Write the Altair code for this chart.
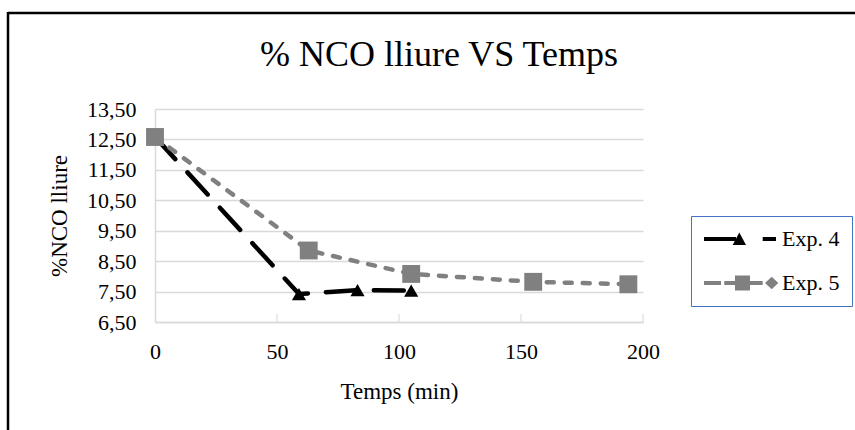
import altair as alt
import pandas as pd

# ---- data ----
exp4_t = [0, 59, 83, 105]
exp4_v = [12.58, 7.42, 7.55, 7.53]
exp5_t = [0, 63, 105, 155, 194]
exp5_v = [12.58, 8.85, 8.08, 7.82, 7.74]
series_names = ["Exp. 4", "Exp. 5"]
y_ticks = [6.5, 7.5, 8.5, 9.5, 10.5, 11.5, 12.5, 13.5]
x_ticks = [0, 50, 100, 150, 200]

df4 = pd.DataFrame({"t": exp4_t, "v": exp4_v, "s": series_names[0]})
df5 = pd.DataFrame({"t": exp5_t, "v": exp5_v, "s": series_names[1]})
df = pd.concat([df4, df5], ignore_index=True)
df_ticks = pd.DataFrame({"t": x_ticks[1:]})

FONT = "Liberation Serif"
BLACK = "#000000"
GRAY = "#808080"
AXIS_GRAY = "#d9d9d9"

x_enc = alt.X("t:Q", scale=alt.Scale(domain=[0, 200], nice=False),
              axis=alt.Axis(values=x_ticks, tickCount=12, title="Temps (min)", grid=False,
                            tickSize=0, labelPadding=19, titlePadding=18, labelFlush=False,
                            domainColor=AXIS_GRAY, domainWidth=1.5))
y_enc = alt.Y("v:Q", scale=alt.Scale(domain=[6.5, 13.5], nice=False, zero=False),
              axis=alt.Axis(values=y_ticks, tickCount=12, title="%NCO lliure", grid=True,
                            gridColor=AXIS_GRAY, gridWidth=1.5, tickSize=0,
                            labelPadding=19, titlePadding=15, labelOverlap=False,
                            labelFlush=False,
                            labelExpr="replace(format(datum.value, '.2f'), '.', ',')",
                            domainColor=AXIS_GRAY, domainWidth=1.5))

base4 = alt.Chart(df4)
base5 = alt.Chart(df5)

inner_ticks = alt.Chart(df_ticks).mark_tick(color=AXIS_GRAY, thickness=1.5, size=8).encode(
    x=alt.X("t:Q"), y=alt.value(209))

line4 = base4.mark_line(color=BLACK, strokeWidth=4.5, strokeDash=[30, 18],
                        strokeCap="round").encode(x=x_enc, y=y_enc)
pts4 = base4.mark_point(shape="triangle-up", filled=True, color=BLACK, size=200,
                        opacity=1).encode(x="t:Q", y="v:Q")
line5 = base5.mark_line(color=GRAY, strokeWidth=4.5, strokeDash=[7, 11],
                        strokeCap="round").encode(x="t:Q", y="v:Q")
pts5 = base5.mark_point(shape="square", filled=True, color=GRAY, size=320,
                        opacity=1).encode(x="t:Q", y="v:Q")

path4 = ("M-1,-0.2 L2.2,-0.2 L2.2,0.2 L-1,0.2 Z "
         "M1.87,0.6 L2.53,-0.65 L3.2,0.6 Z "
         "M4.87,-0.2 L6.2,-0.2 L6.2,0.2 L4.87,0.2 Z")
path5 = ("M-1,-0.2 L0.7,-0.2 L0.7,0.2 L-1,0.2 Z "
         "M1.03,-0.2 L4.87,-0.2 L4.87,0.2 L1.03,0.2 Z "
         "M2.1,-0.75 L3.6,-0.75 L3.6,0.75 L2.1,0.75 Z "
         "M5.77,-0.63 L6.43,0 L5.77,0.63 L5.1,0 Z")

leg = dict(title=None, orient="none", legendX=536, legendY=107,
           symbolSize=400, symbolOpacity=1, symbolStrokeWidth=0,
           labelOffset=57, rowPadding=22, padding=12,
           labelFont=FONT, labelFontSize=22, labelColor=BLACK,
           strokeColor="#4472c4", fillColor="white")

legend_layer = alt.Chart(df).mark_point(filled=True, opacity=0).encode(
    x="t:Q", y="v:Q",
    color=alt.Color("s:N", scale=alt.Scale(domain=series_names, range=[BLACK, GRAY]),
                    legend=alt.Legend(**leg)),
    shape=alt.Shape("s:N", scale=alt.Scale(domain=series_names, range=[path4, path5]),
                    legend=alt.Legend(**leg)),
)

one = alt.Data(values=[{"k": 1}])
frame_top = alt.Chart(one).mark_rule(color=BLACK, strokeWidth=2.5).encode(
    x=alt.value(-147), x2=alt.value(720), y=alt.value(-96))
frame_left = alt.Chart(one).mark_rule(color=BLACK, strokeWidth=2.5).encode(
    x=alt.value(-147), y=alt.value(-97), y2=alt.value(330))

chart = alt.layer(frame_top, frame_left, line4, inner_ticks, pts4, line5, pts5,
                  legend_layer).properties(
    width=488, height=213,
    background="white",
    title=alt.TitleParams("% NCO lliure VS Temps", font=FONT, fontSize=36,
                          fontWeight="normal", color=BLACK, anchor="middle",
                          dx=40, offset=-63),
    autosize=alt.AutoSizeParams(type="none"),
    padding={"left": 155, "top": 109, "right": 212, "bottom": 108},
).configure_axis(
    labelFont=FONT, labelFontSize=22, labelColor=BLACK,
    titleFont=FONT, titleFontSize=23, titleColor=BLACK, titleFontWeight="normal",
).configure_view(stroke=None)

chart.save("out.html", embed_options={"renderer": "svg", "actions": False})
